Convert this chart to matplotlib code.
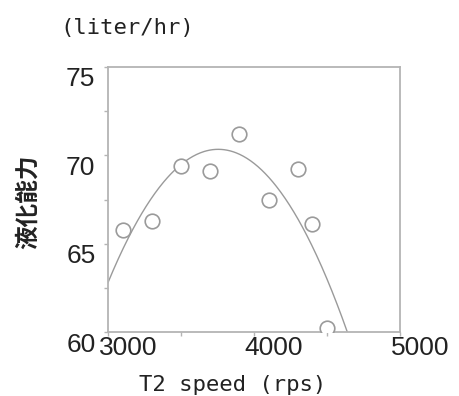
import numpy as np
import matplotlib
matplotlib.use("Agg")
import matplotlib.pyplot as plt
from matplotlib.transforms import ScaledTranslation

# ---- data ----
speed_rps = [3100, 3300, 3500, 3700, 3900, 4100, 4300, 4400, 4500]
capacity = [65.8, 66.3, 69.4, 69.1, 71.2, 67.5, 69.2, 66.1, 60.2]
# quadratic trend line: y = fit_a * (x - fit_h)^2 + fit_k
fit_a = -1.323e-5
fit_h = 3755
fit_k = 70.34
x_ticks = [3000, 4000, 5000]
y_ticks = [60, 65, 70, 75]
x_minor = [3500, 4500]
y_minor = [62.5, 67.5, 72.5]

fig = plt.figure(figsize=(4.6, 3.96), dpi=100)
ax = fig.add_axes([108/460, 1-332/396, 292/460, 265/396])

grey = "#9a9a9a"
ax.plot(speed_rps, capacity, linestyle="none", marker="o", markersize=10.5,
        markerfacecolor="white", markeredgecolor=grey, markeredgewidth=1.2, zorder=3)
xs = np.linspace(3000, 5000, 400)
ax.plot(xs, fit_a * (xs - fit_h) ** 2 + fit_k, color=grey, lw=1.0, zorder=2)

ax.set_xlim(3000, 5000)
ax.set_ylim(60, 75)
ax.set_xticks(x_ticks)
ax.set_yticks(y_ticks)
ax.set_xticks(x_minor, minor=True)
ax.set_yticks(y_minor, minor=True)

for s in ax.spines.values():
    s.set_color("#b4b4b4")
    s.set_linewidth(1.3)

tick_font = ["Liberation Sans Narrow", "Liberation Sans", "DejaVu Sans"]
ax.tick_params(which="both", direction="out", length=3, color="#b4b4b4", width=1)
ax.tick_params(axis="x", pad=0)
ax.tick_params(axis="y", pad=6)
ax.set_xticklabels([str(v) for v in x_ticks], family=tick_font, fontsize=19, color="#222222")
ax.set_yticklabels([str(v) for v in y_ticks], family=tick_font, fontsize=19, color="#222222")

dx = ScaledTranslation(20/100, 0, fig.dpi_scale_trans)
for lab in ax.get_xticklabels():
    lab.set_transform(lab.get_transform() + dx)
dy = ScaledTranslation(0, -10/100, fig.dpi_scale_trans)
for lab in ax.get_yticklabels():
    lab.set_transform(lab.get_transform() + dy)

mono = ["DejaVu Sans Mono"]
fig.text(127/460, 1-28/396, "(liter/hr)", family=mono, fontsize=16,
         ha="center", va="center", color="#222222")
fig.text(233/460, 1-385/396, "T2 speed (rps)", family=mono, fontsize=16,
         ha="center", va="center", color="#222222")
fig.text(28/460, 1-202/396, "液化能力", family=["Noto Sans CJK JP", "DejaVu Sans"],
         fontsize=17, fontweight="bold", rotation=90, ha="center", va="center",
         color="#222222")

fig.savefig("out.png", dpi=100)
